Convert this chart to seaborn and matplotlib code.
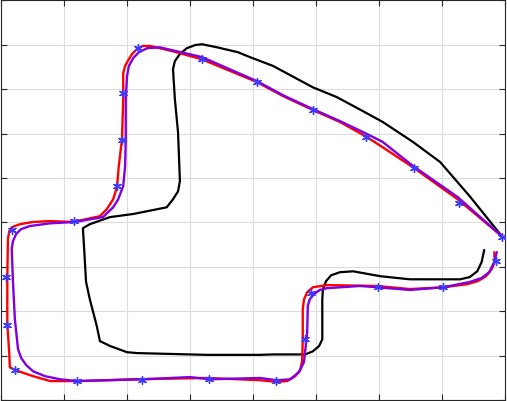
import matplotlib
matplotlib.use("Agg")
import matplotlib.pyplot as plt
import pandas as pd
import seaborn as sns

# reference path (black)
ref_x = [7.95, 7.44, 6.97, 6.54, 6.06, 5.75, 5.33, 4.95, 4.32, 3.95, 3.76, 3.43, 3.19, 3.08, 2.95,
         2.84, 2.76, 2.73, 2.76, 2.81, 2.84, 2.81, 2.73, 2.63, 2.10, 1.73, 1.41, 1.30, 1.32, 1.35,
         1.41, 1.52, 1.57, 1.73, 2.00, 2.16, 3.27, 4.11, 4.32, 4.83, 4.95, 5.05, 5.10, 5.10, 5.11,
         5.16, 5.24, 5.38, 5.59, 6.02, 6.49, 7.29, 7.44, 7.56, 7.63, 7.67]
ref_y = [3.69, 4.59, 5.36, 5.81, 6.26, 6.50, 6.82, 7.04, 7.52, 7.72, 7.83, 7.94, 8.01, 7.99, 7.92,
         7.79, 7.63, 7.45, 6.77, 6.03, 4.93, 4.70, 4.52, 4.34, 4.19, 4.12, 3.96, 3.87, 3.40, 2.66,
         2.27, 1.67, 1.33, 1.22, 1.08, 1.06, 1.02, 1.02, 1.03, 1.03, 1.10, 1.22, 1.37, 2.27, 2.50,
         2.68, 2.81, 2.88, 2.90, 2.79, 2.72, 2.72, 2.77, 2.90, 3.11, 3.38]

# red trajectory
red_x = [7.95, 7.25, 6.54, 6.06, 5.81, 5.38, 4.95, 4.48, 4.06, 3.19, 2.73, 2.37, 2.25, 2.16, 2.08,
         2.02, 1.97, 1.94, 1.94, 1.92, 1.87, 1.84, 1.78, 1.68, 1.57, 1.14, 0.78, 0.51, 0.30, 0.17,
         0.13, 0.11, 0.10, 0.10, 0.13, 0.14, 0.22, 0.51, 0.78, 1.21, 2.10, 3.27, 4.11, 4.38, 4.54,
         4.67, 4.75, 4.78, 4.79, 4.79, 4.81, 4.86, 4.95, 5.17, 5.97, 6.49, 7.02, 7.40, 7.57, 7.70,
         7.79, 7.84, 7.83]
red_y = [3.69, 4.52, 5.24, 5.69, 5.92, 6.26, 6.53, 6.84, 7.16, 7.67, 7.85, 7.97, 7.97, 7.90, 7.79,
         7.65, 7.52, 7.36, 6.77, 5.87, 5.27, 4.79, 4.52, 4.30, 4.14, 4.01, 4.03, 4.01, 3.96, 3.89,
         3.80, 3.62, 2.77, 1.71, 1.08, 0.74, 0.68, 0.54, 0.43, 0.43, 0.47, 0.50, 0.45, 0.41, 0.43,
         0.54, 0.68, 0.88, 1.37, 2.05, 2.27, 2.43, 2.54, 2.59, 2.57, 2.50, 2.54, 2.61, 2.68, 2.79,
         2.95, 3.13, 3.33]

# purple trajectory
pur_x = [7.95, 7.25, 6.54, 6.06, 5.81, 5.38, 4.95, 4.48, 4.06, 3.19, 2.52, 2.32, 2.19, 2.10, 2.03,
         2.00, 1.98, 1.98, 1.97, 1.94, 1.86, 1.78, 1.62, 1.17, 0.78, 0.46, 0.32, 0.24, 0.19, 0.17,
         0.19, 0.22, 0.27, 0.32, 0.40, 0.51, 0.70, 0.94, 1.21, 2.24, 3.00, 3.32, 4.11, 4.38, 4.59,
         4.73, 4.81, 4.86, 4.87, 4.90, 4.97, 5.06, 5.17, 5.70, 5.98, 6.49, 7.02, 7.44, 7.63, 7.75,
         7.83, 7.87]
pur_y = [3.69, 4.57, 5.27, 5.81, 5.99, 6.28, 6.55, 6.86, 7.18, 7.72, 7.94, 7.92, 7.83, 7.70, 7.52,
         7.29, 6.77, 5.87, 5.27, 4.82, 4.52, 4.34, 4.12, 4.01, 3.98, 3.92, 3.85, 3.74, 3.58, 3.40,
         2.66, 1.82, 1.15, 0.95, 0.79, 0.65, 0.54, 0.47, 0.43, 0.47, 0.52, 0.47, 0.50, 0.45, 0.47,
         0.63, 0.86, 1.53, 2.12, 2.27, 2.39, 2.48, 2.52, 2.57, 2.54, 2.48, 2.54, 2.66, 2.75, 2.88,
         3.11, 3.33]

# waypoints (blue stars)
wp_x = [7.95, 7.27, 6.56, 5.79, 4.95, 4.06, 3.19, 2.17, 1.94, 1.92, 1.84, 1.16, 0.17, 0.08, 0.10,
        0.22, 1.21, 2.24, 3.30, 4.37, 4.83, 4.92, 5.98, 7.02, 7.86]
wp_y = [3.67, 4.43, 5.22, 5.92, 6.53, 7.16, 7.67, 7.92, 6.91, 5.85, 4.82, 4.03, 3.83, 2.77, 1.69,
        0.68, 0.43, 0.45, 0.47, 0.43, 1.37, 2.41, 2.54, 2.54, 3.13]

sns.set_style("whitegrid")

fig = plt.figure(figsize=(5.07, 4.02), dpi=100)
ax = fig.add_axes([0.002, 0.002, 0.994, 0.995])

for xs, ys, color, lw in [(ref_x, ref_y, "black", 1.6),
                          (red_x, red_y, "#ff0000", 1.7),
                          (pur_x, pur_y, "#8000e0", 1.7)]:
    df = pd.DataFrame({"x": xs, "y": ys})
    sns.lineplot(data=df, x="x", y="y", sort=False, estimator=None,
                 color=color, linewidth=lw, ax=ax,
                 solid_joinstyle="round", solid_capstyle="round")

sns.scatterplot(x=wp_x, y=wp_y, marker=(6, 2, 0), s=32, color="#3a3aff",
                linewidth=1.0, edgecolor="#3a3aff", ax=ax, zorder=5)

ax.set_xlim(0, 8)
ax.set_ylim(0, 9)
ax.set_xticks(range(0, 9))
ax.set_yticks(range(0, 10))
ax.set_xticklabels([])
ax.set_yticklabels([])
ax.set_xlabel("")
ax.set_ylabel("")
ax.grid(True, color="#dcdcdc", linewidth=0.8)
ax.tick_params(direction="in", length=4, color="#262626", top=True, right=True,
               bottom=True, left=True)
for spine in ax.spines.values():
    spine.set_visible(True)
    spine.set_color("#262626")
    spine.set_linewidth(0.8)

fig.savefig("out.png", dpi=100)
